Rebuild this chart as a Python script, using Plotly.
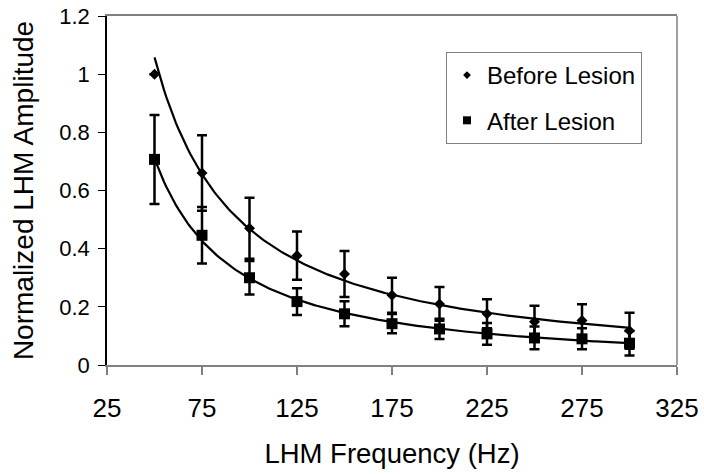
import numpy as np
import plotly.graph_objects as go

freq = [50, 75, 100, 125, 150, 175, 200, 225, 250, 275, 300]
before = [1.0, 0.66, 0.47, 0.376, 0.313, 0.24, 0.21, 0.176, 0.149, 0.153, 0.118]
before_err = [0.0, 0.13, 0.105, 0.083, 0.079, 0.06, 0.058, 0.05, 0.055, 0.056, 0.062]
after = [0.707, 0.446, 0.30, 0.218, 0.176, 0.142, 0.124, 0.107, 0.093, 0.09, 0.075]
after_err = [0.153, 0.097, 0.058, 0.046, 0.043, 0.033, 0.035, 0.037, 0.039, 0.036, 0.042]
x_ticks = [25, 75, 125, 175, 225, 275, 325]
series_names = ["Before Lesion", "After Lesion"]

FONT = "Arial, Liberation Sans, sans-serif"


def power_fit(x, y):
    b, ln_a = np.polyfit(np.log(x), np.log(y), 1)
    xs = np.linspace(min(x), max(x), 200)
    return xs, np.exp(ln_a) * xs ** b


fig = go.Figure()

for vals in (before, after):
    xs, ys = power_fit(freq, vals)
    fig.add_trace(go.Scatter(x=xs, y=ys, mode="lines",
                             line=dict(color="black", width=2.2),
                             showlegend=False, hoverinfo="skip"))

fig.add_trace(go.Scatter(
    x=freq, y=before, mode="markers", showlegend=False,
    marker=dict(symbol="diamond", size=8.5, color="black"),
    error_y=dict(type="data", array=before_err, color="black", thickness=2.5, width=5),
))
fig.add_trace(go.Scatter(
    x=freq, y=after, mode="markers", showlegend=False,
    marker=dict(symbol="square", size=11, color="black"),
    error_y=dict(type="data", array=after_err, color="black", thickness=2.5, width=5),
))

# legend entries
fig.add_trace(go.Scatter(x=[None], y=[None], mode="markers", name=series_names[0],
                         legendgroup="a",
                         marker=dict(symbol="diamond", size=6, color="black")))
fig.add_trace(go.Scatter(x=[None], y=[None], mode="markers", name=series_names[1],
                         legendgroup="b",
                         marker=dict(symbol="square", size=8, color="black")))

fig.update_layout(
    width=704, height=474,
    margin=dict(l=107, r=27, t=16, b=109, autoexpand=False),
    paper_bgcolor="white", plot_bgcolor="white",
    font=dict(family=FONT, color="black"),
    showlegend=True,
    legend=dict(
        x=(446 - 107) / 570, y=(365 - 52) / 349, xanchor="left", yanchor="top",
        bgcolor="white", bordercolor="#808080", borderwidth=1,
        font=dict(size=24, family=FONT, color="black"),
        tracegroupgap=11, itemsizing="trace",
    ),
    xaxis=dict(
        range=[25, 325], tickvals=x_ticks, ticktext=[str(v) for v in x_ticks],
        showgrid=False, zeroline=False, automargin=False,
        showline=True, linecolor="#808080", linewidth=1.5, mirror=True,
        ticks="outside", ticklen=8, tickcolor="#808080", tickwidth=1.5,
        tickfont=dict(size=26, family=FONT, color="black"),
        ticklabelstandoff=11,
        title=dict(text="LHM Frequency (Hz)", font=dict(size=27.5, family=FONT, color="black"),
                   standoff=22),
    ),
    yaxis=dict(
        range=[0, 1.2], dtick=0.2, tick0=0,
        showgrid=False, zeroline=False, automargin=False,
        showline=True, linecolor="black", linewidth=1.5,
        ticks="outside", ticklen=7, tickcolor="black", tickwidth=1,
        tickfont=dict(size=22, family=FONT, color="black"),
        ticklabelstandoff=4,
        title=dict(text="Normalized LHM Amplitude", font=dict(size=28, family=FONT, color="black"),
                   standoff=17),
    ),
    shapes=[dict(type="line", xref="paper", yref="paper", x0=1, x1=1, y0=0, y1=1,
                 line=dict(color="#808080", width=1.5))],
)

fig.write_html("out.html", config={"displayModeBar": False},
               post_script="document.body.style.margin='0';document.body.style.overflow='hidden';")
